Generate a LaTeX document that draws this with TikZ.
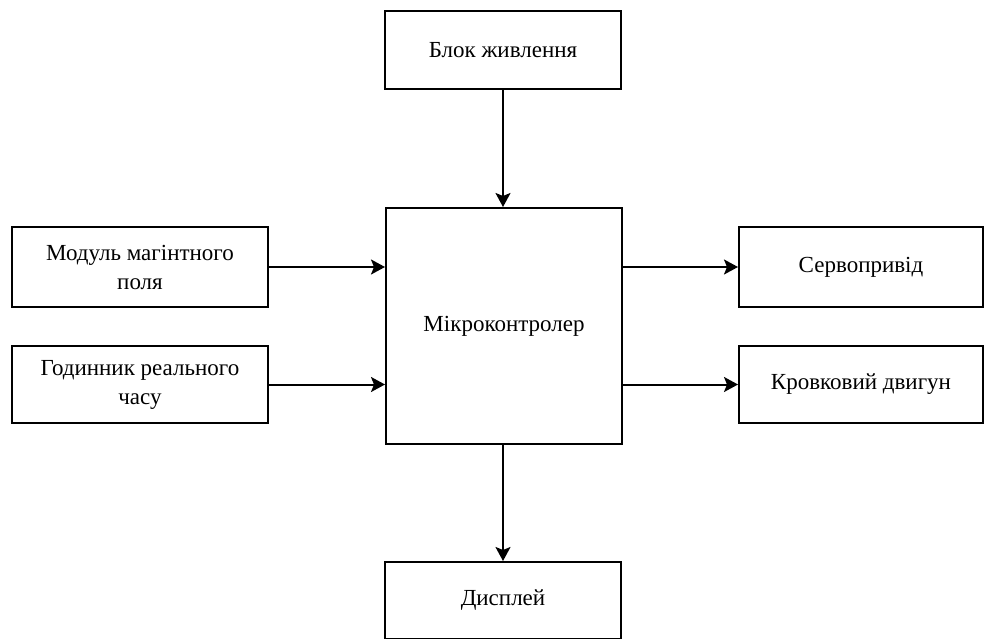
\documentclass[tikz,border=0pt]{standalone}
\usepackage{fontspec}
\setmainfont{Liberation Serif}
\usetikzlibrary{arrows.meta}
\begin{document}
\begin{tikzpicture}[x=1pt,y=-1pt,
  blk/.style={draw=black,line width=2pt,fill=white,anchor=north west,inner sep=0pt,align=center,font=\fontsize{23}{29}\selectfont},
  conn/.style={draw=black,line width=2pt,-{Stealth[length=14pt,width=15pt,inset=3pt]}}]
\useasboundingbox (0,0) rectangle (984,639);
\node[blk,minimum width=236pt,minimum height=78pt] (psu) at (384,10) {Блок живлення};
\node[blk,minimum width=236pt,minimum height=236pt] (mcu) at (385,207) {Мікроконтролер};
\node[blk,minimum width=256pt,minimum height=80pt] (mag) at (11,226) {Модуль магінтного\\поля};
\node[blk,minimum width=256pt,minimum height=77pt] (rtc) at (11,345) {Годинник реального\\часу};
\node[blk,minimum width=244pt,minimum height=80pt] (servo) at (738,226) {Сервопривід};
\node[blk,minimum width=244pt,minimum height=77pt] (motor) at (738,345) {Кровковий двигун};
\node[blk,minimum width=236pt,minimum height=77pt] (disp) at (384,561) {Дисплей};
\draw[conn] (psu.south) -- (psu.south |- mcu.north);
\draw[conn] (mag.east) -- (mag.east -| mcu.west);
\draw[conn] (rtc.east) -- (rtc.east -| mcu.west);
\draw[conn] (mcu.east |- servo.west) -- (servo.west);
\draw[conn] (mcu.east |- motor.west) -- (motor.west);
\draw[conn] (mcu.south -| disp.north) -- (disp.north);
\end{tikzpicture}
\end{document}
